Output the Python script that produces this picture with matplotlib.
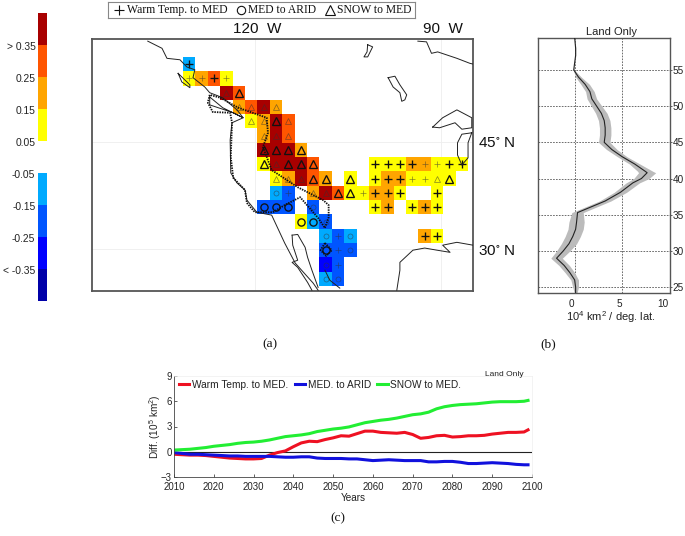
import numpy as np
import matplotlib
matplotlib.use('Agg')
import matplotlib.pyplot as plt
from matplotlib.colors import ListedColormap, BoundaryNorm
from matplotlib.transforms import ScaledTranslation

plt.rcParams['font.family'] = ['Liberation Sans', 'DejaVu Sans']
plt.rcParams['mathtext.fontset'] = 'custom'
plt.rcParams['mathtext.rm'] = 'Liberation Sans'
plt.rcParams['mathtext.default'] = 'regular'

W, H = 685, 536

# ---- colour classes
class_edges = [-0.45, -0.35, -0.25, -0.15, -0.05, 0.05, 0.15, 0.25, 0.35, 0.45]
class_colors = ['#0000a8', '#0000ff', '#0055ff', '#00aaff', '#ffffff',
                '#ffff00', '#ffa500', '#ff5500', '#a80000']
cbar_ticks = [-0.35, -0.25, -0.15, -0.05, 0.05, 0.15, 0.25, 0.35]
cbar_labels = ['< -0.35', '-0.25', '-0.15', '-0.05', '0.05', '0.15', '0.25', '> 0.35']

# ---- map cells: (column, row, value, symbol, strong)
cell_lon0, cell_lat0, cell_step = -131.6, 56.9, 2.0
cells = [
 (0,0,-.1,'+',1),
 (0,1,.1,'+',0),(1,1,.2,'+',0),(2,1,.3,'+',1),(3,1,.1,'+',0),
 (3,2,.4,'^',0),(4,2,.3,'^',1),
 (4,3,.2,'^',0),(5,3,.3,'^',0),(6,3,.4,'^',0),(7,3,.2,'^',0),
 (5,4,.1,'^',0),(6,4,.2,'^',0),(7,4,.4,'^',1),(8,4,.3,'^',0),
 (6,5,.2,'^',0),(7,5,.4,'^',0),(8,5,.3,'^',0),
 (6,6,.4,'^',1),(7,6,.4,'^',1),(8,6,.4,'^',1),(9,6,.2,'^',1),
 (6,7,.1,'^',1),(7,7,.4,'^',0),(8,7,.4,'^',1),(9,7,.4,'^',1),(10,7,.3,'^',1),
 (15,7,.1,'+',1),(16,7,.1,'+',1),(17,7,.1,'+',1),(18,7,.2,'+',1),(19,7,.2,'+',0),
 (20,7,.1,'+',0),(21,7,.1,'+',1),(22,7,.1,'+',1),
 (7,8,.1,'^',0),(8,8,.2,'^',0),(9,8,.4,'^',0),(10,8,.3,'^',1),(11,8,.2,'^',1),(13,8,.1,'^',1),
 (15,8,.1,'+',1),(16,8,.2,'+',1),(17,8,.2,'+',1),(18,8,.1,'+',0),(19,8,.1,'+',0),
 (20,8,.1,'^',0),(21,8,.1,'^',1),
 (7,9,-.1,'o',0),(8,9,-.2,'+',0),(10,9,.2,'^',0),(11,9,.4,'^',0),(12,9,.3,'^',1),
 (13,9,.1,'^',1),(14,9,.1,'+',0),(15,9,.2,'+',1),(16,9,.2,'+',1),(17,9,.1,'+',1),(20,9,.1,'+',1),
 (6,10,-.2,'o',1),(7,10,-.2,'o',1),(8,10,-.2,'o',1),(10,10,-.2,'o',0),
 (15,10,.1,'+',1),(16,10,.2,'+',1),(18,10,.1,'+',1),(19,10,.2,'+',1),(20,10,.1,'+',1),
 (9,11,.1,'o',1),(10,11,-.1,'o',1),(11,11,-.2,'o',0),
 (11,12,-.1,'o',0),(12,12,-.2,'+',0),(13,12,-.1,'o',0),(19,12,.2,'+',1),(20,12,.1,'+',1),
 (11,13,-.2,'o',1),(12,13,-.2,'+',0),(13,13,-.2,'o',0),
 (11,14,-.3,'o',0),(12,14,-.2,'+',0),
 (11,15,-.1,'o',0),(12,15,-.2,'o',0),
]

# ---- outlines (lon, lat)
coast_west = [(-137.3,59.1),(-135.0,58.1),(-134.2,56.7),(-132.1,56.5),(-131.0,55.5),(-129.7,55.1),
 (-130.0,54.0),(-128.1,52.7),(-127.3,51.9),(-125.2,51.2),(-122.9,49.5),(-121.9,48.4),(-123.7,47.7),
 (-124.0,45.3),(-123.9,40.7),(-122.9,39.3),(-121.6,38.3),(-121.3,36.9),(-119.7,35.2),(-117.3,34.8),
 (-115.2,30.9),(-113.5,28.1),(-110.6,25.3),(-109.8,24.3)]
island_a = [(-132.4,54.6),(-130.5,53.0),(-130.5,52.6),(-131.8,53.4),(-132.4,54.6)]
island_b = [(-127.3,51.3),(-125.2,49.8),(-121.9,48.4),(-123.5,49.1),(-127.3,50.2),(-127.3,51.3)]
baja_east = [(-114.0,32.0),(-113.9,30.6),(-113.1,28.5),(-114.0,28.2),(-113.1,27.5),(-111.5,25.4),(-110.8,24.3)]
mexico_west = [(-114.0,32.0),(-113.1,32.1),(-111.9,30.3),(-111.5,28.9),(-110.8,27.1),(-109.8,24.7)]
mexico_inner = [(-108.7,27.1),(-107.9,25.7),(-106.3,24.6)]
gulf = [(-97.1,24.3),(-96.6,27.1),(-96.6,28.2),(-94.5,29.9),(-92.6,30.2),(-90.6,29.9),(-88.5,29.6),
 (-89.7,30.6),(-87.4,31.0),(-84.8,30.6)]
hudson = [(-93.7,59.1),(-92.3,59.0),(-91.5,57.4),(-90.5,57.6),(-87.4,56.7),(-85.3,56.0),(-84.8,55.9)]
lake_small = [(-101.8,58.6),(-101.0,58.3),(-101.8,56.9),(-102.4,56.9),(-101.9,57.6),(-101.8,58.6)]
lake_winnipeg = [(-98.5,54.0),(-97.4,54.2),(-96.6,53.0),(-95.5,51.6),(-95.8,50.9),(-96.3,50.7),(-96.6,51.9),(-97.7,52.7),(-98.5,54.0)]
lake_superior = [(-91.3,47.1),(-89.7,48.4),(-87.4,49.5),(-85.0,48.4),(-85.0,47.0),(-86.6,46.8),(-87.7,47.7),(-90.2,47.0),(-91.3,47.1)]
lake_michigan = [(-85.0,46.3),(-86.6,46.1),(-87.3,44.9),(-87.3,43.2),(-86.6,41.8),(-85.6,42.8),(-85.6,44.9),(-85.0,46.3)]
solid_lines = [coast_west, island_a, island_b, baja_east, mexico_west, mexico_inner, gulf, hudson,
               lake_small, lake_winnipeg, lake_superior, lake_michigan]
region_outline = [(-125.6,51.2),(-122.7,49.8),(-118.1,48.4),(-117.9,46.3),(-118.7,44.3),(-117.3,41.1),
 (-113.1,38.7),(-109.0,36.9),(-108.1,36.2),(-108.1,34.5),(-108.7,33.0),(-109.8,34.4),(-112.7,37.3),
 (-115.2,36.2),(-117.1,35.2),(-120.0,35.2),(-121.3,36.5),(-121.6,38.3),(-123.5,40.0),(-123.9,42.9),
 (-123.7,47.7),(-124.0,49.1),(-126.8,49.2),(-127.6,50.5),(-127.3,51.6),(-125.6,51.2)]
region_diamond = [(-108.7,30.9),(-107.6,29.9),(-108.5,29.1),(-109.4,29.9),(-108.7,30.9)]

# ---- latitudinal profile
profile_lat = [59.4,58,57,56,55,54,53,52,51,50,49,48,47,46,45,44,43,42,41,40.8,40,39.4,38.1,36.9,35.3,34,33,32,31,30,29,28,27,26,25,24.2]
profile_val = [0.0,0.1,0.1,0.0,-0.1,0.4,1.1,1.6,1.8,2.3,2.8,3.1,3.2,3.2,3.1,3.9,5.0,6.3,7.4,7.6,7.0,6.1,4.8,3.2,0.3,0.2,0.1,-0.2,-0.6,-1.2,-1.9,-1.1,-0.5,0.0,0.1,0.1]
profile_err = [0.02,0.02,0.02,0.02,0.05,0.3,0.45,0.45,0.5,0.55,0.6,0.6,0.6,0.6,0.6,0.55,0.5,0.55,0.8,0.9,0.8,0.7,0.65,0.6,0.6,0.8,0.8,0.8,0.8,0.7,0.6,0.55,0.5,0.4,0.3,0.15]

# ---- time series
years = list(range(2010, 2099, 2)) + [2099]
warm_to_med = [-.3,-.35,-.4,-.4,-.45,-.55,-.65,-.75,-.8,-.85,-.85,-.8,-.4,-.1,.1,.6,1.05,1.25,1.2,1.45,1.65,1.9,1.85,2.15,2.45,2.45,2.3,2.25,2.2,2.3,2.05,1.6,1.7,1.9,1.95,1.75,1.8,1.9,1.9,1.95,2.1,2.2,2.3,2.3,2.35,2.6]
med_to_arid = [-.1,-.2,-.3,-.3,-.35,-.4,-.45,-.5,-.5,-.55,-.55,-.55,-.55,-.6,-.65,-.65,-.6,-.6,-.75,-.8,-.8,-.8,-.85,-.85,-.95,-1.05,-1.0,-.95,-1.0,-1.05,-1.05,-1.05,-1.2,-1.2,-1.15,-1.15,-1.25,-1.4,-1.4,-1.35,-1.3,-1.35,-1.4,-1.5,-1.55,-1.55]
snow_to_med = [.2,.25,.3,.4,.5,.65,.75,.85,1.0,1.1,1.15,1.25,1.4,1.6,1.8,1.9,2.0,2.15,2.4,2.55,2.7,2.8,2.95,3.2,3.45,3.6,3.75,3.85,4.0,4.2,4.4,4.5,4.7,5.1,5.35,5.5,5.6,5.65,5.7,5.8,5.9,5.95,5.95,5.95,6.0,6.1]
series_names = ['Warm Temp. to MED.', 'MED. to ARID', 'SNOW to MED.']
series_colors = ['#ee1122', '#1111dd', '#22ee33']

def axes_px(x0, y0, x1, y1):
    return fig.add_axes([x0 / W, 1 - y1 / H, (x1 - x0) / W, (y1 - y0) / H])

fig = plt.figure(figsize=(W / 100, H / 100), dpi=100)
cmap = ListedColormap(class_colors)
norm = BoundaryNorm(class_edges, cmap.N)

# ---- colour bar
cax = axes_px(37.5, 13, 46.5, 301)
cb = matplotlib.colorbar.ColorbarBase(cax, cmap=cmap, norm=norm, boundaries=class_edges,
                                      spacing='proportional', orientation='vertical')
cb.outline.set_visible(False)
cb.set_ticks(cbar_ticks)
cb.set_ticklabels(cbar_labels)
cax.minorticks_off()
cax.yaxis.set_ticks_position('left')
cax.tick_params(length=0, labelsize=7.4, pad=1.5, colors='#222222')
for lab in cax.get_yticklabels():
    lab.set_transform(lab.get_transform() + ScaledTranslation(0, -1.5 / 100, fig.dpi_scale_trans))

# ---- map
ax = axes_px(92, 39, 473, 291)
ax.set_xlim(-146.3, -84.8)
ax.set_ylim(24.2, 59.4)
for lon in (-120, -90):
    ax.axvline(lon, color='#eeeeee', lw=0.6, zorder=0)
for lat in (30, 45):
    ax.axhline(lat, color='#eeeeee', lw=0.6, zorder=0)
for col, row, val, sym, strong in cells:
    west = cell_lon0 + col * cell_step
    north = cell_lat0 - row * cell_step
    ax.fill([west, west + cell_step, west + cell_step, west],
            [north, north, north - cell_step, north - cell_step],
            color=cmap(norm(val)), lw=0, zorder=1)
    cx, cy = west + cell_step / 2, north - cell_step / 2
    if strong:
        ax.plot(cx, cy, sym, ms={'+': 6, 'o': 5.2, '^': 5.8}[sym], mfc='none', mec='#111111', mew=0.95, zorder=3)
    else:
        ax.plot(cx, cy, sym, ms={'+': 4.2, 'o': 3.6, '^': 4.2}[sym], mfc='none', mec='#333333', mew=0.5, alpha=0.6, zorder=3)
for line in solid_lines:
    xs, ys = zip(*line)
    ax.plot(xs, ys, color='#222222', lw=0.7, zorder=4, solid_joinstyle='round')
for line in (region_outline, region_diamond):
    xs, ys = zip(*line)
    ax.plot(xs, ys, color='#111111', lw=1.3, ls=(0, (0.8, 0.6)), zorder=5)
ax.set_xticks([])
ax.set_yticks([])
for s in ax.spines.values():
    s.set_color('#555555')
    s.set_linewidth(1.3)
fig.text(257 / W, 1 - 29 / H, '120  W', ha='center', va='center', fontsize=11, color='#111111')
fig.text(443 / W, 1 - 29 / H, '90  W', ha='center', va='center', fontsize=11, color='#111111')
fig.text(478 / W, 1 - 143 / H, '45$^{\\circ}$ N', ha='left', va='center', fontsize=11, color='#111111')
fig.text(478 / W, 1 - 251 / H, '30$^{\\circ}$ N', ha='left', va='center', fontsize=11, color='#111111')

# ---- map legend
lax = axes_px(107.5, 2, 415, 18)
lax.set_xlim(107.5, 415)
lax.set_ylim(18, 2)
lax.set_xticks([])
lax.set_yticks([])
for s in lax.spines.values():
    s.set_color('#888888')
    s.set_linewidth(0.8)
map_legend = [('+', 119, 127, 'Warm Temp. to MED'), ('o', 241, 248, 'MED to ARID'), ('^', 330, 337, 'SNOW to MED')]
for sym, mx, tx, name in map_legend:
    lax.plot(mx, 10, sym, ms={'+': 7.5, 'o': 6, '^': 7}[sym], mfc='none', mec='#111111', mew=0.8)
    lax.text(tx, 10, name, family='Liberation Serif', fontsize=8.4, va='center', ha='left', color='#111111')

# ---- latitude profile
pax = axes_px(537.5, 38, 670, 293)
pax.set_xlim(-3.9, 10)
pax.set_ylim(24.2, 59.4)
pax.fill_betweenx(profile_lat, np.array(profile_val) - np.array(profile_err),
                  np.array(profile_val) + np.array(profile_err), color='#bbbbbb', lw=0, zorder=1)
pax.plot(profile_val, profile_lat, color='#222222', lw=0.8, zorder=3)
pax.set_xticks([0, 5, 10])
pax.set_yticks([25, 30, 35, 40, 45, 50, 55])
pax.yaxis.tick_right()
pax.grid(True, color='#555555', lw=0.6, ls=(0, (2, 1.5)), zorder=0)
pax.set_axisbelow(True)
pax.tick_params(axis='x', length=0, labelsize=7.2, colors='#222222', pad=4)
pax.tick_params(axis='y', length=1.5, width=0.5, labelsize=7.2, colors='#222222', pad=0.5)
shifts = {0: -3, 5: -3, 10: -7}
for v, lab in zip((0, 5, 10), pax.get_xticklabels()):
    lab.set_transform(lab.get_transform() + ScaledTranslation(shifts[v] / 100, 0, fig.dpi_scale_trans))
for s in pax.spines.values():
    s.set_color('#555555')
    s.set_linewidth(1.0)
fig.text(611 / W, 1 - 32 / H, 'Land Only', ha='center', va='center', fontsize=8, color='#222222')
fig.text(611 / W, 1 - 317 / H, '10$^4$ km$^2$ / deg. lat.', ha='center', va='center', fontsize=8, color='#222222')

# ---- time series
tax = axes_px(174, 376, 532, 477)
tax.set_xlim(2010, 2100)
tax.set_ylim(-3, 9)
tax.axhline(0, color='#222222', lw=0.8, zorder=1)
for vals, name, col in zip((warm_to_med, med_to_arid, snow_to_med), series_names, series_colors):
    tax.plot(years, vals, color=col, lw=2.2, label=name, zorder=2)
tax.set_xticks(range(2010, 2101, 10))
tax.set_yticks([-3, 0, 3, 6, 9])
tax.tick_params(direction='in', length=2, width=0.5, labelsize=6.9, colors='#222222')
tax.tick_params(axis='x', pad=3.5)
tax.tick_params(axis='y', pad=1.5)
tax.set_xlabel('Years', fontsize=7.2, color='#222222')
tax.xaxis.set_label_coords(0.5, -0.16)
tax.set_ylabel('Diff. (10$^5$ km$^2$)', fontsize=7.2, color='#222222')
tax.yaxis.set_label_coords(-0.03, 0.5)
tax.legend(loc='upper left', bbox_to_anchor=(0.005, 1.0), ncol=3, frameon=False, fontsize=7.3,
           handlelength=1.0, handletextpad=0.25, columnspacing=0.65, borderaxespad=0, borderpad=0.35,
           labelcolor='#222222')
for side in ('left', 'bottom'):
    tax.spines[side].set_color('#444444')
    tax.spines[side].set_linewidth(0.6)
for side in ('top', 'right'):
    tax.spines[side].set_color('#eeeeee')
    tax.spines[side].set_linewidth(0.5)
fig.text(504 / W, 1 - 374 / H, 'Land Only', ha='center', va='center', fontsize=6, color='#222222')

# ---- captions
for x, y, t in ((270, 344, '(a)'), (548, 344, '(b)'), (338, 518, '(c)')):
    fig.text(x / W, 1 - y / H, t, family='Liberation Serif', ha='center', va='center', fontsize=9.7, color='#111111')

fig.savefig('out.png', dpi=100)
